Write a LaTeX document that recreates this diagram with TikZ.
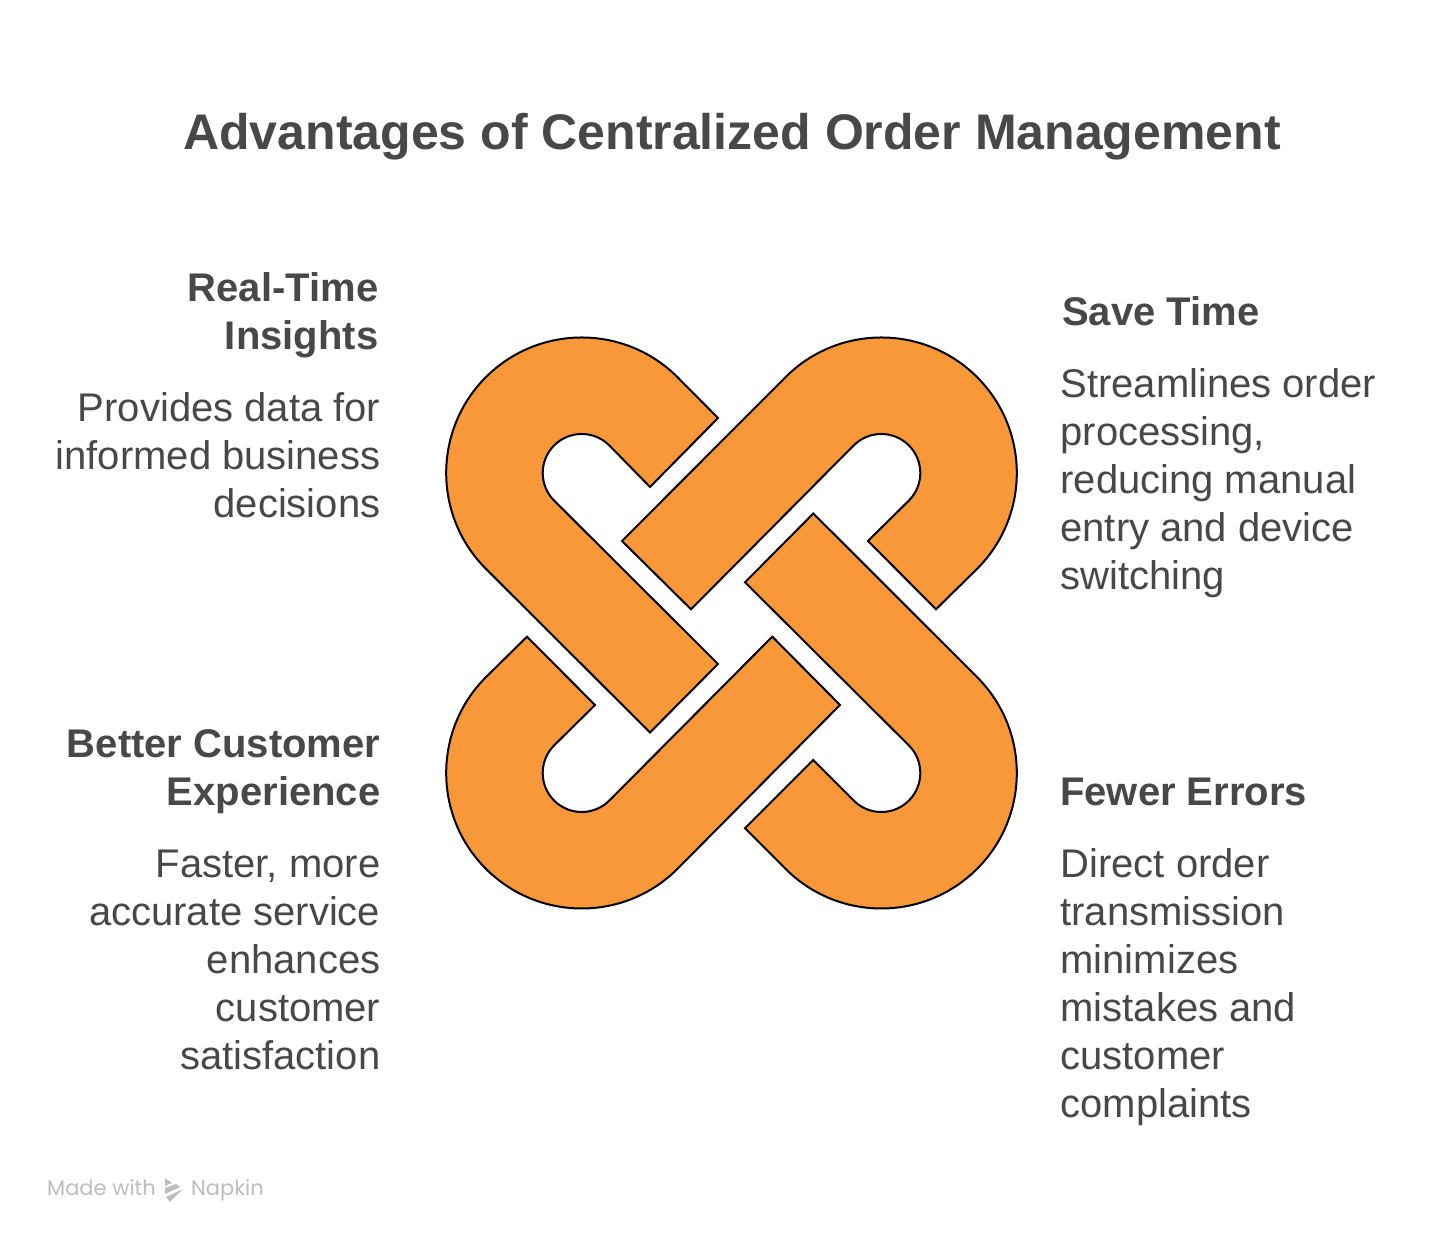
\documentclass[tikz,border=0pt]{standalone}
\usepackage{fontspec}
\setmainfont{Liberation Sans}
\newfontfamily\markfont{Poppins}
\usetikzlibrary{calc}
\definecolor{linkfill}{HTML}{F99839}
\definecolor{inktext}{HTML}{484848}
\definecolor{marktext}{HTML}{BDBDBD}
\tikzset{
  link/.style={draw=black, fill=linkfill, line width=2pt, line join=miter},
  headtext/.style={inner sep=0pt, text=inktext, font=\fontsize{40}{48}\selectfont\bfseries},
  bodytext/.style={inner sep=0pt, text=inktext, font=\fontsize{40}{48}\selectfont},
  marktextstyle/.style={inner sep=0pt, text=marktext, font=\markfont\fontsize{21}{26}\selectfont, anchor=base west},
}

\begin{document}
\begin{tikzpicture}[x=1pt,y=1pt]
\useasboundingbox (0,0) rectangle (1440,1244);
\fill[white] (0,0) rectangle (1440,1244);
% Centres of the four bends
\coordinate (bendTL) at (581.7,771);
\coordinate (bendTR) at (881.3,771);
\coordinate (bendBL) at (581.7,471);
\coordinate (bendBR) at (881.3,471);
% Top left link
\draw[link] (718,826) -- ($(bendTL)+(45:135.5)$) arc[start angle=45,end angle=225,radius=135.5] -- (650,511.5) -- (718,580) -- ($(bendTL)+(225:39)$) arc[start angle=225,end angle=45,radius=39] -- (650,757) -- cycle;
% Top right link
\draw[link] (622,703) -- ($(bendTR)+(135:135.5)$) arc[start angle=135,end angle=-45,radius=135.5] -- (936,634.7) -- (868,703) -- ($(bendTR)+(-45:39)$) arc[start angle=-45,end angle=135,radius=39] -- (691,634.7) -- cycle;
% Bottom left link
\draw[link] (527,607.3) -- ($(bendBL)+(135:135.5)$) arc[start angle=135,end angle=315,radius=135.5] -- (840,539) -- (772.3,607.3) -- ($(bendBL)+(315:39)$) arc[start angle=315,end angle=135,radius=39] -- (595,539) -- cycle;
% Bottom right link
\draw[link] (813.3,730.5) -- ($(bendBR)+(45:135.5)$) arc[start angle=45,end angle=-135,radius=135.5] -- (745,415.7) -- (813.3,484) -- ($(bendBR)+(225:39)$) arc[start angle=-135,end angle=45,radius=39] -- (745,661.7) -- cycle;
% Title
\node[inner sep=0pt, text=inktext, font=\fontsize{50}{60}\selectfont\bfseries, anchor=base] (titleText) at (732,1094) {Advantages of Centralized Order Management};
% Left column
\node[headtext, anchor=base east, align=right] (insightsHead) at (378.5,894) {Real-Time\\Insights};
\node[bodytext, anchor=base east, align=right] (insightsBody) at (380.5,726) {Provides data for\\informed business\\decisions};
\node[headtext, anchor=base east, align=right] (customerHead) at (380.5,438) {Better Customer\\Experience};
\node[bodytext, anchor=base east, align=right] (customerBody) at (380.5,174) {Faster, more\\accurate service\\enhances\\customer\\satisfaction};
% Right column
\node[headtext, anchor=base west, align=left] (saveHead) at (1062,918) {Save Time};
\node[bodytext, anchor=base west, align=left] (saveBody) at (1060.3,654) {Streamlines order\\processing,\\reducing manual\\entry and device\\switching};
\node[headtext, anchor=base west, align=left] (errorsHead) at (1060,438) {Fewer Errors};
\node[bodytext, anchor=base west, align=left] (errorsBody) at (1060.3,126) {Direct order\\transmission\\minimizes\\mistakes and\\customer\\complaints};
% Footer mark
\node[marktextstyle] (madeText) at (47,48) {Made with};
\node[marktextstyle] (napkinText) at (191,48) {Napkin};
\fill[marktext] (165,66) -- (172,61) -- (165,58) -- cycle;
\fill[marktext] (165,56) -- (176,60) -- (180,57) -- (165,50) -- cycle;
\fill[marktext] (166,47) -- (183,55) -- (170,42) -- cycle;
\end{tikzpicture}
\end{document}
